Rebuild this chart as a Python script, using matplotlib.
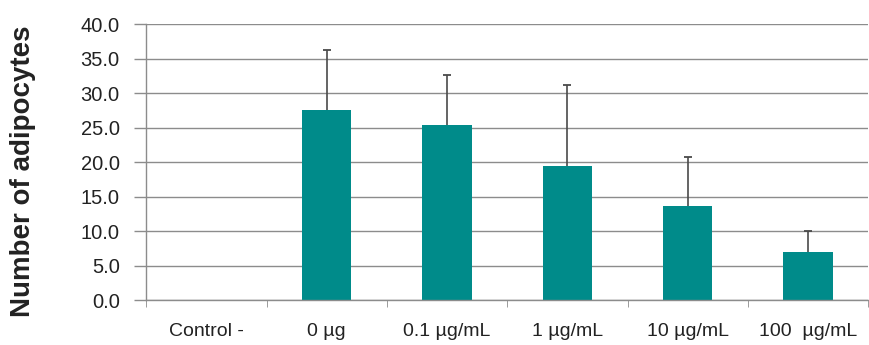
import numpy as np
import matplotlib.pyplot as plt

plt.rcParams['font.family'] = ['Liberation Sans', 'DejaVu Sans']

groups = ['Control -', '0 µg', '0.1 µg/mL', '1 µg/mL', '10 µg/mL', '100  µg/mL']
adipocytes = [np.nan, 27.6, 25.4, 19.5, 13.7, 7.0]
sd_upper = [np.nan, 8.7, 7.3, 11.7, 7.1, 3.0]

teal = '#008B8A'
grey = '#8C8C8C'

fig = plt.figure(figsize=(8.7, 3.45), dpi=100)
ax = fig.add_axes([0.168, 0.129, 0.830, 0.801])

x = np.arange(len(groups))
ax.bar(x, adipocytes, width=0.41, color=teal, zorder=2)

# only the upper half of the error bar is shown
means = np.array(adipocytes)
_, caps, _ = ax.errorbar(x, means, yerr=[np.zeros_like(means), np.array(sd_upper)],
                         fmt='none', ecolor='#4a4a4a', elinewidth=1.2, capsize=3.2,
                         capthick=1.3, zorder=3)
caps[0].set_visible(False)

ax.set_xlim(-0.5, len(groups) - 0.5)
ax.set_ylim(0, 40)
ax.set_yticks(np.arange(0, 40.1, 5))
ax.set_yticklabels([f'{v:.1f}' for v in np.arange(0, 40.1, 5)])
ax.yaxis.grid(True, color=grey, linewidth=1)
ax.set_axisbelow(True)

ax.set_xticks(x)
ax.set_xticklabels(groups)
ax.set_xticks(np.arange(-0.5, len(groups)), minor=True)
ax.tick_params(axis='x', which='major', length=0, pad=16, labelsize=14,
               labelcolor='#222222')
ax.tick_params(axis='x', which='minor', length=5, color=grey, direction='out')
ax.tick_params(axis='y', length=9, color=grey, width=1, pad=10,
               labelsize=14.5, labelcolor='#222222')

for side in ['top', 'right']:
    ax.spines[side].set_visible(False)
for side in ['left', 'bottom']:
    ax.spines[side].set_color(grey)
    ax.spines[side].set_linewidth(1)

fig.text(23 / 870, 1 - 171 / 345, 'Number of adipocytes', rotation=90,
         ha='center', va='center', fontsize=20, fontweight='bold',
         color='#222222')

fig.savefig('out.png', dpi=100)
